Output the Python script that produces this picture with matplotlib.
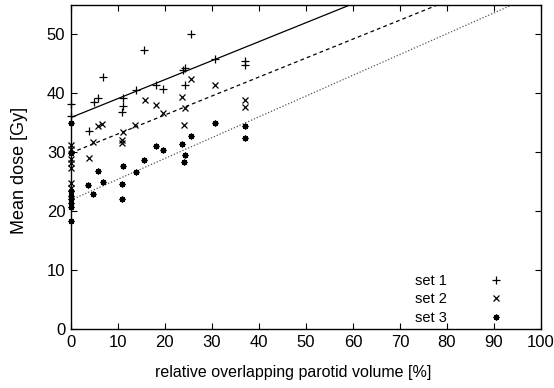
import matplotlib
matplotlib.use("Agg")
import matplotlib.pyplot as plt
import numpy as np

plt.rcParams['font.family'] = ['Liberation Sans', 'DejaVu Sans']

# data
set1_x = [0, 0, 3.8, 4.9, 5.7, 6.9, 10.8, 11.0, 11.1, 13.8, 15.6, 18.2, 19.6, 23.8, 24.2, 24.3, 25.5, 30.6, 37.0, 37.0]
set1_y = [38.2, 36.1, 33.6, 38.5, 39.2, 42.7, 36.9, 39.2, 37.9, 40.5, 47.3, 41.4, 40.8, 43.9, 41.4, 44.3, 50.0, 45.9, 45.5, 44.9]

set2_x = [0, 0, 0, 0, 0, 0, 0, 3.8, 4.8, 5.7, 6.7, 10.9, 10.9, 11.1, 13.7, 15.7, 18.2, 19.6, 23.7, 24.1, 24.3, 25.5, 30.6, 37.0, 37.0]
set2_y = [31.3, 30.5, 28.8, 28.1, 27.4, 24.8, 24.0, 29.1, 31.7, 34.5, 34.8, 32.1, 31.5, 33.4, 34.7, 38.8, 38.0, 36.6, 39.4, 34.7, 37.5, 42.5, 41.5, 38.9, 37.7]

set3_x = [0, 0, 0, 0, 0, 0, 0, 0, 3.7, 4.8, 5.7, 6.9, 10.8, 10.9, 11.1, 13.8, 15.6, 18.2, 19.6, 23.7, 24.1, 24.3, 25.5, 30.6, 37.0, 37.0]
set3_y = [35.0, 29.9, 23.4, 22.5, 22.1, 21.4, 20.8, 18.4, 24.5, 23.0, 26.8, 24.9, 22.1, 24.6, 27.7, 26.6, 28.7, 31.1, 30.4, 31.4, 28.4, 29.5, 32.7, 34.9, 34.4, 32.4]

# fitted lines: (intercept, slope)
fit_intercepts = [35.9, 29.9, 21.9]
fit_slopes = [0.322, 0.322, 0.353]

labels = ["set 1", "set 2", "set 3"]
xticks = list(range(0, 101, 10))
yticks = list(range(0, 51, 10))

fig = plt.figure(figsize=(5.54, 3.88), dpi=100)
ax = fig.add_axes([0.128, 0.152, 0.8485, 0.835])

xs_line = np.array([0, 100])
ax.plot(xs_line, fit_intercepts[0] + fit_slopes[0] * xs_line, color='black', lw=0.9, ls='-')
ax.plot(xs_line, fit_intercepts[1] + fit_slopes[1] * xs_line, color='black', lw=0.9, ls=(0, (3, 2.5)))
ax.plot(xs_line, fit_intercepts[2] + fit_slopes[2] * xs_line, color='#555555', lw=0.9, ls=(0, (1, 1.5)))

ax.plot(set1_x, set1_y, ls='none', marker='+', ms=5.5, mew=0.9, color='black', label=labels[0], clip_on=False)
ax.plot(set2_x, set2_y, ls='none', marker='x', ms=4, mew=0.9, color='black', label=labels[1], clip_on=False)
ax.plot(set3_x, set3_y, ls='none', marker=(8, 2, 0), ms=4.2, mew=1.0, color='black', label=labels[2], clip_on=False)

ax.set_xlim(0, 100)
ax.set_ylim(0, 55)
ax.set_xticks(xticks)
ax.set_yticks(yticks)
ax.tick_params(direction='in', length=4, width=0.8, top=True, right=True, labelsize=12, pad=4)
for s in ax.spines.values():
    s.set_linewidth(1.0)

ax.set_xlabel("relative overlapping parotid volume [%]", fontsize=11.5)
ax.xaxis.set_label_coords(0.472, -0.11)
ax.set_ylabel("Mean dose [Gy]", fontsize=13)
ax.yaxis.set_label_coords(-0.092, 0.49)

ax.legend(loc='lower right', frameon=False, markerfirst=False, fontsize=10.5,
          handlelength=1.5, handletextpad=2.6, labelspacing=0.3,
          borderaxespad=0.0, borderpad=0.4, bbox_to_anchor=(0.94, -0.005))

fig.savefig("out.png", dpi=100)
